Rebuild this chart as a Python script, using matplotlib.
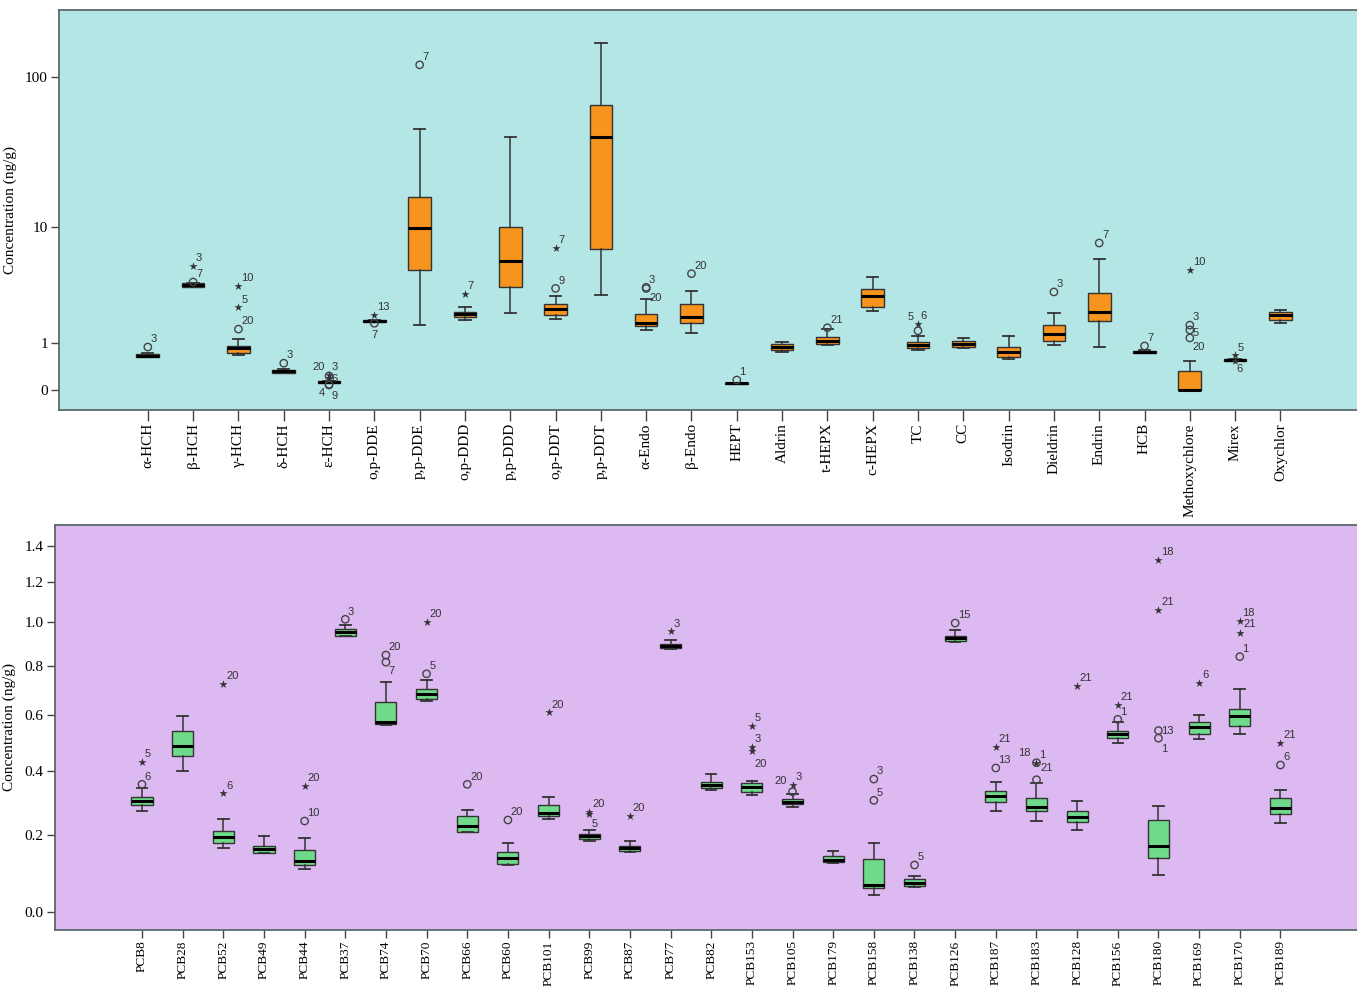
import matplotlib
matplotlib.use('Agg')
import matplotlib.pyplot as plt
import numpy as np

# ---- top panel: organochlorine pesticides (ng/g) ----
oc_names = ['α-HCH', 'β-HCH', 'γ-HCH', 'δ-HCH', 'ε-HCH', 'o,p-DDE', 'p,p-DDE',
            'o,p-DDD', 'p,p-DDD', 'o,p-DDT', 'p,p-DDT', 'α-Endo', 'β-Endo', 'HEPT',
            'Aldrin', 't-HEPX', 'c-HEPX', 'TC', 'CC', 'Isodrin', 'Dieldrin', 'Endrin',
            'HCB', 'Methoxychlore', 'Mirex', 'Oxychlor']
oc_med = [0.66, 3.71, 0.87, 0.32, 0.13, 1.77, 9.9, 2.07, 5.73, 2.31, 40.7, 1.70, 1.93,
          0.108, 0.89, 1.075, 2.99, 0.948, 0.986, 0.757, 1.28, 2.15, 0.757, 0.0, 0.569, 2.01]
oc_q1 = [0.63, 3.60, 0.74, 0.29, 0.108, 1.73, 4.87, 1.93, 3.59, 2.01, 7.03, 1.58, 1.69,
         0.10, 0.81, 0.986, 2.41, 0.864, 0.899, 0.625, 1.075, 1.76, 0.723, 0.0, 0.546, 1.83]
oc_q3 = [0.70, 3.83, 0.93, 0.348, 0.147, 1.81, 16.1, 2.18, 10.1, 2.54, 65.2, 2.06, 2.56,
         0.115, 0.968, 1.20, 3.42, 1.035, 1.065, 0.899, 1.625, 3.17, 0.791, 0.33, 0.585, 2.15]
oc_lo = [0.63, 3.60, 0.673, 0.29, 0.108, 1.73, 1.61, 1.81, 2.13, 1.87, 3.08, 1.43, 1.31,
         0.10, 0.757, 0.956, 2.21, 0.817, 0.872, 0.592, 0.956, 0.883, 0.72, 0.0, 0.546, 1.70]
oc_hi = [0.73, 3.83, 1.127, 0.37, 0.147, 1.81, 45.9, 2.42, 40.5, 3.02, 164, 2.82, 3.29,
         0.115, 1.026, 1.454, 4.32, 1.213, 1.159, 1.223, 2.13, 5.87, 0.80, 0.54, 0.585, 2.25]
# outliers: (compound, value, case number)
oc_circles = [('α-HCH', 0.89, '3'), ('β-HCH', 3.92, '7'), ('γ-HCH', 1.46, '20'),
              ('δ-HCH', 0.49, '3'), ('ε-HCH', 0.235, '20'), ('ε-HCH', 0.092, '4'),
              ('ε-HCH', 0.081, '9'), ('o,p-DDE', 1.68, '7'), ('p,p-DDE', 119, '7'),
              ('o,p-DDT', 3.48, '9'), ('α-Endo', 3.55, '3'), ('α-Endo', 3.47, '20'),
              ('β-Endo', 4.56, '20'), ('HEPT', 0.164, '1'), ('t-HEPX', 1.51, '21'),
              ('TC', 1.40, '5'), ('Dieldrin', 3.25, '3'), ('Endrin', 7.73, '7'),
              ('HCB', 0.92, '7'), ('Methoxychlore', 1.61, '3'), ('Methoxychlore', 1.43, '5'),
              ('Methoxychlore', 1.16, '20')]
oc_stars = [('β-HCH', 5.25, '3'), ('γ-HCH', 2.39, '5'), ('γ-HCH', 3.66, '10'),
            ('ε-HCH', 0.252, '3'), ('ε-HCH', 0.204, '6'), ('o,p-DDE', 2.03, '13'),
            ('o,p-DDD', 3.14, '7'), ('o,p-DDT', 7.08, '7'), ('TC', 1.65, '6'),
            ('Methoxychlore', 4.85, '10'), ('Mirex', 0.673, '5'), ('Mirex', 0.54, '6')]

# ---- bottom panel: PCB congeners (ng/g) ----
pcb_names = ['PCB8', 'PCB28', 'PCB52', 'PCB49', 'PCB44', 'PCB37', 'PCB74', 'PCB70',
             'PCB66', 'PCB60', 'PCB101', 'PCB99', 'PCB87', 'PCB77', 'PCB82', 'PCB153',
             'PCB105', 'PCB179', 'PCB158', 'PCB138', 'PCB126', 'PCB187', 'PCB183',
             'PCB128', 'PCB156', 'PCB180', 'PCB169', 'PCB170', 'PCB189']
pcb_med = [0.303, 0.486, 0.196, 0.161, 0.130, 0.950, 0.574, 0.683, 0.228, 0.136, 0.267,
           0.198, 0.164, 0.889, 0.354, 0.346, 0.301, 0.132, 0.067, 0.070, 0.924, 0.318,
           0.285, 0.255, 0.528, 0.170, 0.554, 0.595, 0.281]
pcb_q1 = [0.2905, 0.451, 0.179, 0.150, 0.118, 0.934, 0.565, 0.664, 0.209, 0.120, 0.258,
          0.189, 0.157, 0.880, 0.345, 0.331, 0.293, 0.125, 0.058, 0.064, 0.910, 0.301,
          0.273, 0.239, 0.514, 0.136, 0.531, 0.557, 0.262]
pcb_q3 = [0.3145, 0.542, 0.214, 0.170, 0.159, 0.964, 0.650, 0.702, 0.258, 0.152, 0.292,
          0.204, 0.170, 0.898, 0.365, 0.359, 0.309, 0.141, 0.135, 0.081, 0.934, 0.334,
          0.312, 0.272, 0.542, 0.244, 0.575, 0.625, 0.313]
pcb_lo = [0.272, 0.399, 0.165, 0.150, 0.107, 0.934, 0.562, 0.654, 0.209, 0.117, 0.248,
          0.185, 0.153, 0.873, 0.339, 0.322, 0.285, 0.123, 0.041, 0.060, 0.907, 0.273,
          0.243, 0.216, 0.495, 0.092, 0.512, 0.528, 0.237]
pcb_hi = [0.343, 0.597, 0.249, 0.198, 0.192, 0.983, 0.731, 0.740, 0.275, 0.179, 0.316,
          0.216, 0.184, 0.917, 0.389, 0.367, 0.324, 0.157, 0.178, 0.089, 0.963, 0.363,
          0.359, 0.304, 0.572, 0.287, 0.600, 0.702, 0.338]
pcb_circles = [('PCB8', 0.356, '6'), ('PCB44', 0.242, '10'), ('PCB37', 1.012, '3'),
               ('PCB74', 0.847, '20'), ('PCB74', 0.816, '7'), ('PCB70', 0.766, '5'),
               ('PCB66', 0.356, '20'), ('PCB60', 0.245, '20'), ('PCB105', 0.332, '20'),
               ('PCB158', 0.373, '3'), ('PCB158', 0.305, '5'), ('PCB138', 0.118, '5'),
               ('PCB126', 0.994, '15'), ('PCB187', 0.410, '13'), ('PCB183', 0.371, '21'),
               ('PCB183', 0.428, '18'), ('PCB156', 0.584, '1'), ('PCB180', 0.542, '13'),
               ('PCB180', 0.514, '1'), ('PCB170', 0.840, '1'), ('PCB189', 0.420, '6')]
pcb_stars = [('PCB8', 0.4315, '5'), ('PCB52', 0.327, '6'), ('PCB52', 0.724, '20'),
             ('PCB44', 0.352, '20'), ('PCB70', 1.0, '20'), ('PCB101', 0.610, '20'),
             ('PCB99', 0.269, '20'), ('PCB99', 0.264, '5'), ('PCB87', 0.257, '20'),
             ('PCB77', 0.955, '3'), ('PCB153', 0.560, '5'), ('PCB153', 0.483, '3'),
             ('PCB153', 0.468, '20'), ('PCB105', 0.354, '3'), ('PCB187', 0.484, '21'),
             ('PCB183', 0.428, '1'), ('PCB128', 0.715, '21'), ('PCB156', 0.641, '21'),
             ('PCB180', 1.059, '21'), ('PCB180', 1.317, '18'), ('PCB169', 0.729, '6'),
             ('PCB170', 0.947, '21'), ('PCB170', 1.005, '18'), ('PCB189', 0.496, '21')]

# label placement tweaks (points offset, ha, va) where SPSS moved the case label
label_pos = {
    ('ε-HCH', '20'): (-3, 3, 'right', 'bottom'), ('ε-HCH', '4'): (-3, -3, 'right', 'top'),
    ('ε-HCH', '9'): (2, -4, 'left', 'top'), ('ε-HCH', '6'): (2, -1, 'left', 'center'),
    ('o,p-DDE', '7'): (0, -5, 'center', 'top'), ('TC', '5'): (-3, 6, 'right', 'bottom'),
    ('α-Endo', '20'): (2, -3, 'left', 'top'), ('Mirex', '6'): (1, -2, 'left', 'top'),
    ('Methoxychlore', '20'): (2, -3, 'left', 'top'), ('Methoxychlore', '5'): (2, -2, 'left', 'center'),
    ('PCB74', '7'): (2, -3, 'left', 'top'), ('PCB99', '5'): (2, -4, 'left', 'top'),
    ('PCB153', '20'): (2, -6, 'left', 'top'), ('PCB105', '20'): (-4, 4, 'right', 'bottom'),
    ('PCB183', '18'): (-4, 3, 'right', 'bottom'), ('PCB183', '21'): (3, 5, 'left', 'bottom'),
    ('PCB180', '1'): (2, -4, 'left', 'top'), ('PCB180', '13'): (2, 0, 'left', 'center'),
    ('PCB170', '21'): (3, 3, 'left', 'bottom'),
}


def fwd(y):
    return np.log10(np.clip(1 + np.asarray(y, dtype=float), 1e-6, None))


def inv(y):
    return 10 ** np.asarray(y, dtype=float) - 1


def panel(ax, names, med, q1, q3, lo, hi, circles, stars, bg, fc, yticks, ylim,
          xlim, width, xfs, tlen):
    ax.set_facecolor(bg)
    stats = []
    for i in range(len(names)):
        stats.append(dict(med=med[i], q1=q1[i], q3=q3[i], whislo=lo[i], whishi=hi[i],
                          fliers=[]))
    pos = np.arange(1, len(names) + 1)
    ax.bxp(stats, positions=pos, widths=width, showfliers=False, patch_artist=True,
           boxprops=dict(facecolor=fc, edgecolor='#333333', linewidth=1.0),
           medianprops=dict(color='black', linewidth=2.2),
           whiskerprops=dict(color='#333333', linewidth=1.1),
           capprops=dict(color='#333333', linewidth=1.3), capwidths=width * 0.5)
    idx = {n: i + 1 for i, n in enumerate(names)}
    for lst, mk in [(circles, 'o'), (stars, '*')]:
        xs = [idx[c] for c, v, k in lst]
        vs = [v for c, v, k in lst]
        if mk == 'o':
            ax.scatter(xs, vs, s=28, marker='o', facecolors='none', edgecolors='#444444',
                       linewidths=1.0, zorder=4)
        else:
            ax.scatter(xs, vs, s=38, marker='*', color='#333333', linewidths=0, zorder=4)
        for c, v, k in lst:
            dx, dy, ha, va = label_pos.get((c, k), (2, 2, 'left', 'bottom'))
            ax.annotate(k, (idx[c], v), xytext=(dx, dy), textcoords='offset points',
                        ha=ha, va=va, fontsize=8, color='#333333',
                        family='Liberation Sans', zorder=5)
    ax.set_yscale('function', functions=(fwd, inv))
    ax.set_ylim(*ylim)
    ax.set_yticks(yticks[0])
    ax.set_yticklabels(yticks[1], fontsize=11, family='Liberation Serif')
    ax.set_xlim(*xlim)
    ax.set_xticks(pos)
    ax.set_xticklabels(names, rotation=90, fontsize=xfs, family='Liberation Serif')
    ax.tick_params(axis='x', length=tlen, width=1.0, color='#444444', pad=1.5)
    ax.tick_params(axis='y', length=6, width=1.0, color='#444444', pad=2)
    ax.yaxis.set_minor_locator(matplotlib.ticker.NullLocator())
    for s in ax.spines.values():
        s.set_color('#5a6a6a')
        s.set_linewidth(1.3)
    ax.set_ylabel('Concentration (ng/g)', fontsize=11, family='Liberation Serif')


fig = plt.figure(figsize=(13.57, 9.89), dpi=100)
ax1 = fig.add_axes([0.0435, 0.5854, 0.9585, 0.4045])
ax2 = fig.add_axes([0.0405, 0.0597, 0.9615, 0.4095])

panel(ax1, oc_names, oc_med, oc_q1, oc_q3, oc_lo, oc_hi, oc_circles, oc_stars,
      '#b4e6e6', '#f7941d', ([0, 1, 10, 100], ['0', '1', '10', '100']),
      (-0.252, 268), (-0.96, 27.75), 0.5, 11, 8)
panel(ax2, pcb_names, pcb_med, pcb_q1, pcb_q3, pcb_lo, pcb_hi, pcb_circles, pcb_stars,
      '#dcb9f1', '#6fdb8a',
      ([0, 0.2, 0.4, 0.6, 0.8, 1.0, 1.2, 1.4],
       ['0.0', '0.2', '0.4', '0.6', '0.8', '1.0', '1.2', '1.4']),
      (-0.0428, 1.521), (-1.14, 30.95), 0.52, 9.6, 6)
ax1.yaxis.set_label_coords(-0.032, 0.5)
ax2.yaxis.set_label_coords(-0.030, 0.5)

fig.savefig('out.png', dpi=100)
